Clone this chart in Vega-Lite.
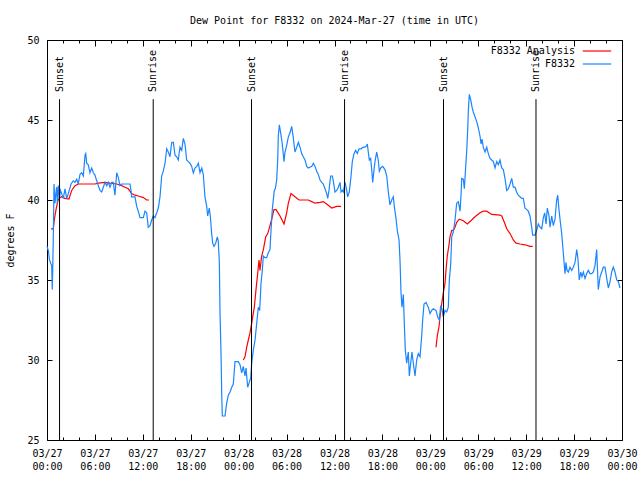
{
  "$schema": "https://vega.github.io/schema/vega-lite/v6.json",
  "width": 575,
  "height": 400,
  "autosize": {"type": "none"},
  "padding": {"left": 47, "top": 40, "right": 18, "bottom": 40},
  "background": "white",
  "title": {"text": "Dew Point for F8332 on 2024-Mar-27 (time in UTC)", "font": "DejaVu Sans Mono", "fontSize": 10, "fontWeight": "normal", "anchor": "middle", "offset": 9, "color": "black"},
  "config": {
    "view": {"stroke": "black", "strokeWidth": 1},
    "axis": {"grid": false, "domain": false, "tickColor": "black", "labelColor": "black", "labelFont": "DejaVu Sans Mono", "labelFontSize": 10, "titleFont": "DejaVu Sans Mono", "titleFontSize": 10, "titleFontWeight": "normal", "titleColor": "black"}
  },
  "datasets": {
    "obs": [
      {"s":"F8332 Analysis","g":"r1","h":0.50,"v":38.2},{"s":"F8332 Analysis","g":"r1","h":0.79,"v":38.2},{"s":"F8332 Analysis","g":"r1","h":0.91,"v":38.75},{"s":"F8332 Analysis","g":"r1","h":1.13,"v":39.4},{"s":"F8332 Analysis","g":"r1","h":1.34,"v":39.9},{"s":"F8332 Analysis","g":"r1","h":1.50,"v":40.1},{"s":"F8332 Analysis","g":"r1","h":1.84,"v":40.2},{"s":"F8332 Analysis","g":"r1","h":2.25,"v":40.1},{"s":"F8332 Analysis","g":"r1","h":2.75,"v":40.06},{"s":"F8332 Analysis","g":"r1","h":3.09,"v":40.6},{"s":"F8332 Analysis","g":"r1","h":3.51,"v":40.9},{"s":"F8332 Analysis","g":"r1","h":3.92,"v":41.0},{"s":"F8332 Analysis","g":"r1","h":4.76,"v":41.0},{"s":"F8332 Analysis","g":"r1","h":6.01,"v":41.0},{"s":"F8332 Analysis","g":"r1","h":6.42,"v":41.05},{"s":"F8332 Analysis","g":"r1","h":7.26,"v":41.1},{"s":"F8332 Analysis","g":"r1","h":7.89,"v":41.05},{"s":"F8332 Analysis","g":"r1","h":8.73,"v":41.0},{"s":"F8332 Analysis","g":"r1","h":9.35,"v":40.9},{"s":"F8332 Analysis","g":"r1","h":9.77,"v":40.8},{"s":"F8332 Analysis","g":"r1","h":10.18,"v":40.7},{"s":"F8332 Analysis","g":"r1","h":10.60,"v":40.4},{"s":"F8332 Analysis","g":"r1","h":11.02,"v":40.3},{"s":"F8332 Analysis","g":"r1","h":11.43,"v":40.25},{"s":"F8332 Analysis","g":"r1","h":12.06,"v":40.15},{"s":"F8332 Analysis","g":"r1","h":12.48,"v":40.0},{"s":"F8332 Analysis","g":"r1","h":12.77,"v":40.0},
      {"s":"F8332 Analysis","g":"r2","h":24.58,"v":30.0},{"s":"F8332 Analysis","g":"r2","h":24.79,"v":30.2},{"s":"F8332 Analysis","g":"r2","h":25.01,"v":30.8},{"s":"F8332 Analysis","g":"r2","h":25.21,"v":31.25},{"s":"F8332 Analysis","g":"r2","h":25.42,"v":31.7},{"s":"F8332 Analysis","g":"r2","h":25.63,"v":32.3},{"s":"F8332 Analysis","g":"r2","h":25.96,"v":33.3},{"s":"F8332 Analysis","g":"r2","h":26.17,"v":34.4},{"s":"F8332 Analysis","g":"r2","h":26.38,"v":35.4},{"s":"F8332 Analysis","g":"r2","h":26.55,"v":36.25},{"s":"F8332 Analysis","g":"r2","h":26.67,"v":35.6},{"s":"F8332 Analysis","g":"r2","h":26.88,"v":36.5},{"s":"F8332 Analysis","g":"r2","h":27.09,"v":36.9},{"s":"F8332 Analysis","g":"r2","h":27.39,"v":37.7},{"s":"F8332 Analysis","g":"r2","h":27.64,"v":37.9},{"s":"F8332 Analysis","g":"r2","h":27.92,"v":38.4},{"s":"F8332 Analysis","g":"r2","h":28.21,"v":38.95},{"s":"F8332 Analysis","g":"r2","h":28.42,"v":39.4},{"s":"F8332 Analysis","g":"r2","h":28.68,"v":39.4},{"s":"F8332 Analysis","g":"r2","h":29.18,"v":39.0},{"s":"F8332 Analysis","g":"r2","h":29.68,"v":38.5},{"s":"F8332 Analysis","g":"r2","h":30.01,"v":39.2},{"s":"F8332 Analysis","g":"r2","h":30.22,"v":39.8},{"s":"F8332 Analysis","g":"r2","h":30.55,"v":40.4},{"s":"F8332 Analysis","g":"r2","h":31.05,"v":40.2},{"s":"F8332 Analysis","g":"r2","h":31.56,"v":40.0},{"s":"F8332 Analysis","g":"r2","h":32.09,"v":40.0},{"s":"F8332 Analysis","g":"r2","h":32.72,"v":40.0},{"s":"F8332 Analysis","g":"r2","h":33.15,"v":39.9},{"s":"F8332 Analysis","g":"r2","h":33.56,"v":39.8},{"s":"F8332 Analysis","g":"r2","h":34.19,"v":39.85},{"s":"F8332 Analysis","g":"r2","h":34.60,"v":39.9},{"s":"F8332 Analysis","g":"r2","h":35.02,"v":39.75},{"s":"F8332 Analysis","g":"r2","h":35.65,"v":39.5},{"s":"F8332 Analysis","g":"r2","h":36.28,"v":39.6},{"s":"F8332 Analysis","g":"r2","h":36.82,"v":39.6},
      {"s":"F8332 Analysis","g":"r3","h":48.71,"v":30.8},{"s":"F8332 Analysis","g":"r3","h":48.87,"v":31.5},{"s":"F8332 Analysis","g":"r3","h":49.09,"v":32.1},{"s":"F8332 Analysis","g":"r3","h":49.21,"v":32.7},{"s":"F8332 Analysis","g":"r3","h":49.42,"v":33.5},{"s":"F8332 Analysis","g":"r3","h":49.62,"v":34.2},{"s":"F8332 Analysis","g":"r3","h":49.84,"v":34.8},{"s":"F8332 Analysis","g":"r3","h":49.96,"v":35.6},{"s":"F8332 Analysis","g":"r3","h":50.12,"v":36.5},{"s":"F8332 Analysis","g":"r3","h":50.34,"v":37.2},{"s":"F8332 Analysis","g":"r3","h":50.46,"v":37.7},{"s":"F8332 Analysis","g":"r3","h":50.68,"v":38.1},{"s":"F8332 Analysis","g":"r3","h":50.88,"v":38.1},{"s":"F8332 Analysis","g":"r3","h":51.09,"v":38.3},{"s":"F8332 Analysis","g":"r3","h":51.30,"v":38.6},{"s":"F8332 Analysis","g":"r3","h":51.63,"v":38.8},{"s":"F8332 Analysis","g":"r3","h":52.13,"v":38.7},{"s":"F8332 Analysis","g":"r3","h":52.63,"v":38.5},{"s":"F8332 Analysis","g":"r3","h":53.18,"v":38.75},{"s":"F8332 Analysis","g":"r3","h":53.59,"v":38.95},{"s":"F8332 Analysis","g":"r3","h":54.22,"v":39.2},{"s":"F8332 Analysis","g":"r3","h":54.63,"v":39.3},{"s":"F8332 Analysis","g":"r3","h":55.06,"v":39.3},{"s":"F8332 Analysis","g":"r3","h":55.68,"v":39.1},{"s":"F8332 Analysis","g":"r3","h":56.72,"v":39.06},{"s":"F8332 Analysis","g":"r3","h":56.94,"v":39.0},{"s":"F8332 Analysis","g":"r3","h":57.35,"v":38.5},{"s":"F8332 Analysis","g":"r3","h":57.56,"v":38.2},{"s":"F8332 Analysis","g":"r3","h":57.98,"v":37.9},{"s":"F8332 Analysis","g":"r3","h":58.39,"v":37.5},{"s":"F8332 Analysis","g":"r3","h":58.73,"v":37.3},{"s":"F8332 Analysis","g":"r3","h":59.23,"v":37.25},{"s":"F8332 Analysis","g":"r3","h":59.85,"v":37.2},{"s":"F8332 Analysis","g":"r3","h":60.48,"v":37.1},{"s":"F8332 Analysis","g":"r3","h":60.82,"v":37.1},
      {"s":"F8332","g":"b","h":0.00,"v":37.1},{"s":"F8332","g":"b","h":0.19,"v":36.8},{"s":"F8332","g":"b","h":0.29,"v":36.3},{"s":"F8332","g":"b","h":0.50,"v":36.0},{"s":"F8332","g":"b","h":0.59,"v":35.9},{"s":"F8332","g":"b","h":0.66,"v":34.4},{"s":"F8332","g":"b","h":0.71,"v":35.5},{"s":"F8332","g":"b","h":0.79,"v":37.7},{"s":"F8332","g":"b","h":0.88,"v":41.0},{"s":"F8332","g":"b","h":1.00,"v":39.8},{"s":"F8332","g":"b","h":1.13,"v":40.5},{"s":"F8332","g":"b","h":1.21,"v":40.8},{"s":"F8332","g":"b","h":1.29,"v":39.8},{"s":"F8332","g":"b","h":1.41,"v":40.9},{"s":"F8332","g":"b","h":1.54,"v":40.1},{"s":"F8332","g":"b","h":1.69,"v":40.6},{"s":"F8332","g":"b","h":1.84,"v":40.4},{"s":"F8332","g":"b","h":2.04,"v":40.1},{"s":"F8332","g":"b","h":2.25,"v":40.7},{"s":"F8332","g":"b","h":2.47,"v":40.1},{"s":"F8332","g":"b","h":2.67,"v":40.4},{"s":"F8332","g":"b","h":3.01,"v":41.0},{"s":"F8332","g":"b","h":3.29,"v":41.2},{"s":"F8332","g":"b","h":3.51,"v":41.1},{"s":"F8332","g":"b","h":3.72,"v":41.3},{"s":"F8332","g":"b","h":3.92,"v":41.0},{"s":"F8332","g":"b","h":4.13,"v":41.6},{"s":"F8332","g":"b","h":4.35,"v":41.7},{"s":"F8332","g":"b","h":4.55,"v":41.5},{"s":"F8332","g":"b","h":4.76,"v":42.8},{"s":"F8332","g":"b","h":4.85,"v":42.9},{"s":"F8332","g":"b","h":4.97,"v":42.3},{"s":"F8332","g":"b","h":5.17,"v":42.2},{"s":"F8332","g":"b","h":5.38,"v":41.7},{"s":"F8332","g":"b","h":5.60,"v":42.0},{"s":"F8332","g":"b","h":5.80,"v":41.7},{"s":"F8332","g":"b","h":6.01,"v":41.56},{"s":"F8332","g":"b","h":6.22,"v":41.2},{"s":"F8332","g":"b","h":6.42,"v":40.9},{"s":"F8332","g":"b","h":6.64,"v":40.6},{"s":"F8332","g":"b","h":6.85,"v":40.5},{"s":"F8332","g":"b","h":7.05,"v":40.8},{"s":"F8332","g":"b","h":7.26,"v":41.1},{"s":"F8332","g":"b","h":7.48,"v":40.9},{"s":"F8332","g":"b","h":7.68,"v":41.1},{"s":"F8332","g":"b","h":7.89,"v":40.8},{"s":"F8332","g":"b","h":8.10,"v":41.1},{"s":"F8332","g":"b","h":8.30,"v":41.1},{"s":"F8332","g":"b","h":8.51,"v":40.3},{"s":"F8332","g":"b","h":8.73,"v":41.7},{"s":"F8332","g":"b","h":8.93,"v":41.4},{"s":"F8332","g":"b","h":9.14,"v":40.9},{"s":"F8332","g":"b","h":9.35,"v":41.0},{"s":"F8332","g":"b","h":9.77,"v":41.0},{"s":"F8332","g":"b","h":10.39,"v":41.0},{"s":"F8332","g":"b","h":10.52,"v":40.6},{"s":"F8332","g":"b","h":10.60,"v":40.2},{"s":"F8332","g":"b","h":11.02,"v":40.2},{"s":"F8332","g":"b","h":11.23,"v":39.6},{"s":"F8332","g":"b","h":11.43,"v":39.3},{"s":"F8332","g":"b","h":11.65,"v":38.9},{"s":"F8332","g":"b","h":12.06,"v":38.9},{"s":"F8332","g":"b","h":12.27,"v":39.3},{"s":"F8332","g":"b","h":12.48,"v":39.2},{"s":"F8332","g":"b","h":12.68,"v":38.3},{"s":"F8332","g":"b","h":12.90,"v":38.4},{"s":"F8332","g":"b","h":13.11,"v":38.75},{"s":"F8332","g":"b","h":13.31,"v":39.0},{"s":"F8332","g":"b","h":13.52,"v":38.9},{"s":"F8332","g":"b","h":13.74,"v":39.2},{"s":"F8332","g":"b","h":13.94,"v":39.5},{"s":"F8332","g":"b","h":14.15,"v":40.2},{"s":"F8332","g":"b","h":14.36,"v":41.5},{"s":"F8332","g":"b","h":14.56,"v":41.8},{"s":"F8332","g":"b","h":14.78,"v":42.3},{"s":"F8332","g":"b","h":14.99,"v":43.2},{"s":"F8332","g":"b","h":15.19,"v":43.0},{"s":"F8332","g":"b","h":15.40,"v":42.7},{"s":"F8332","g":"b","h":15.62,"v":43.6},{"s":"F8332","g":"b","h":15.82,"v":43.6},{"s":"F8332","g":"b","h":16.03,"v":42.8},{"s":"F8332","g":"b","h":16.24,"v":42.7},{"s":"F8332","g":"b","h":16.44,"v":42.5},{"s":"F8332","g":"b","h":16.65,"v":43.3},{"s":"F8332","g":"b","h":16.87,"v":43.1},{"s":"F8332","g":"b","h":17.07,"v":43.85},{"s":"F8332","g":"b","h":17.28,"v":43.5},{"s":"F8332","g":"b","h":17.49,"v":42.5},{"s":"F8332","g":"b","h":17.69,"v":42.4},{"s":"F8332","g":"b","h":17.91,"v":42.3},{"s":"F8332","g":"b","h":18.12,"v":42.1},{"s":"F8332","g":"b","h":18.32,"v":41.7},{"s":"F8332","g":"b","h":18.53,"v":42.0},{"s":"F8332","g":"b","h":18.75,"v":42.1},{"s":"F8332","g":"b","h":18.95,"v":42.3},{"s":"F8332","g":"b","h":19.16,"v":41.7},{"s":"F8332","g":"b","h":19.38,"v":42.0},{"s":"F8332","g":"b","h":19.57,"v":41.6},{"s":"F8332","g":"b","h":19.78,"v":40.2},{"s":"F8332","g":"b","h":20.00,"v":39.6},{"s":"F8332","g":"b","h":20.12,"v":39.0},{"s":"F8332","g":"b","h":20.32,"v":39.5},{"s":"F8332","g":"b","h":20.45,"v":39.0},{"s":"F8332","g":"b","h":20.62,"v":37.9},{"s":"F8332","g":"b","h":20.75,"v":37.3},{"s":"F8332","g":"b","h":20.91,"v":37.1},{"s":"F8332","g":"b","h":21.12,"v":37.3},{"s":"F8332","g":"b","h":21.33,"v":37.7},{"s":"F8332","g":"b","h":21.45,"v":37.4},{"s":"F8332","g":"b","h":21.58,"v":36.1},{"s":"F8332","g":"b","h":21.66,"v":33.1},{"s":"F8332","g":"b","h":21.79,"v":30.4},{"s":"F8332","g":"b","h":21.88,"v":27.8},{"s":"F8332","g":"b","h":21.95,"v":26.5},{"s":"F8332","g":"b","h":22.29,"v":26.5},{"s":"F8332","g":"b","h":22.50,"v":27.3},{"s":"F8332","g":"b","h":22.70,"v":27.8},{"s":"F8332","g":"b","h":22.92,"v":28.0},{"s":"F8332","g":"b","h":23.13,"v":28.3},{"s":"F8332","g":"b","h":23.33,"v":28.5},{"s":"F8332","g":"b","h":23.54,"v":29.9},{"s":"F8332","g":"b","h":23.95,"v":29.9},{"s":"F8332","g":"b","h":24.17,"v":29.7},{"s":"F8332","g":"b","h":24.38,"v":29.2},{"s":"F8332","g":"b","h":24.58,"v":29.6},{"s":"F8332","g":"b","h":24.79,"v":29.0},{"s":"F8332","g":"b","h":24.92,"v":29.5},{"s":"F8332","g":"b","h":25.13,"v":28.3},{"s":"F8332","g":"b","h":25.33,"v":28.6},{"s":"F8332","g":"b","h":25.51,"v":28.9},{"s":"F8332","g":"b","h":25.63,"v":29.8},{"s":"F8332","g":"b","h":25.83,"v":30.6},{"s":"F8332","g":"b","h":26.05,"v":31.25},{"s":"F8332","g":"b","h":26.26,"v":32.3},{"s":"F8332","g":"b","h":26.46,"v":33.3},{"s":"F8332","g":"b","h":26.63,"v":33.1},{"s":"F8332","g":"b","h":26.80,"v":34.8},{"s":"F8332","g":"b","h":26.96,"v":35.6},{"s":"F8332","g":"b","h":27.09,"v":36.5},{"s":"F8332","g":"b","h":27.30,"v":36.4},{"s":"F8332","g":"b","h":27.51,"v":36.4},{"s":"F8332","g":"b","h":27.71,"v":36.7},{"s":"F8332","g":"b","h":27.92,"v":36.9},{"s":"F8332","g":"b","h":28.05,"v":38.1},{"s":"F8332","g":"b","h":28.21,"v":39.4},{"s":"F8332","g":"b","h":28.46,"v":40.6},{"s":"F8332","g":"b","h":28.59,"v":40.7},{"s":"F8332","g":"b","h":28.76,"v":41.25},{"s":"F8332","g":"b","h":28.89,"v":42.5},{"s":"F8332","g":"b","h":28.96,"v":43.95},{"s":"F8332","g":"b","h":29.09,"v":44.7},{"s":"F8332","g":"b","h":29.26,"v":44.2},{"s":"F8332","g":"b","h":29.46,"v":43.5},{"s":"F8332","g":"b","h":29.68,"v":42.4},{"s":"F8332","g":"b","h":29.80,"v":43.0},{"s":"F8332","g":"b","h":30.01,"v":43.4},{"s":"F8332","g":"b","h":30.22,"v":43.95},{"s":"F8332","g":"b","h":30.43,"v":44.2},{"s":"F8332","g":"b","h":30.64,"v":44.6},{"s":"F8332","g":"b","h":30.84,"v":43.9},{"s":"F8332","g":"b","h":31.05,"v":43.0},{"s":"F8332","g":"b","h":31.27,"v":43.3},{"s":"F8332","g":"b","h":31.47,"v":43.6},{"s":"F8332","g":"b","h":31.68,"v":43.3},{"s":"F8332","g":"b","h":31.89,"v":42.9},{"s":"F8332","g":"b","h":32.09,"v":42.7},{"s":"F8332","g":"b","h":32.31,"v":42.5},{"s":"F8332","g":"b","h":32.52,"v":42.1},{"s":"F8332","g":"b","h":32.72,"v":42.0},{"s":"F8332","g":"b","h":33.15,"v":42.1},{"s":"F8332","g":"b","h":33.35,"v":42.3},{"s":"F8332","g":"b","h":33.56,"v":42.1},{"s":"F8332","g":"b","h":33.77,"v":41.8},{"s":"F8332","g":"b","h":33.97,"v":41.6},{"s":"F8332","g":"b","h":34.19,"v":41.25},{"s":"F8332","g":"b","h":34.40,"v":41.1},{"s":"F8332","g":"b","h":34.60,"v":41.0},{"s":"F8332","g":"b","h":34.81,"v":40.7},{"s":"F8332","g":"b","h":35.02,"v":40.4},{"s":"F8332","g":"b","h":35.15,"v":40.1},{"s":"F8332","g":"b","h":35.31,"v":40.6},{"s":"F8332","g":"b","h":35.52,"v":41.5},{"s":"F8332","g":"b","h":35.73,"v":41.5},{"s":"F8332","g":"b","h":35.85,"v":41.2},{"s":"F8332","g":"b","h":36.06,"v":40.5},{"s":"F8332","g":"b","h":36.28,"v":40.6},{"s":"F8332","g":"b","h":36.48,"v":40.8},{"s":"F8332","g":"b","h":36.69,"v":41.1},{"s":"F8332","g":"b","h":36.82,"v":40.5},{"s":"F8332","g":"b","h":36.98,"v":40.6},{"s":"F8332","g":"b","h":37.10,"v":40.5},{"s":"F8332","g":"b","h":37.32,"v":41.1},{"s":"F8332","g":"b","h":37.53,"v":40.6},{"s":"F8332","g":"b","h":37.65,"v":40.2},{"s":"F8332","g":"b","h":37.85,"v":40.5},{"s":"F8332","g":"b","h":38.07,"v":41.5},{"s":"F8332","g":"b","h":38.23,"v":42.4},{"s":"F8332","g":"b","h":38.44,"v":42.9},{"s":"F8332","g":"b","h":38.65,"v":43.1},{"s":"F8332","g":"b","h":38.86,"v":42.9},{"s":"F8332","g":"b","h":39.07,"v":43.2},{"s":"F8332","g":"b","h":39.32,"v":43.2},{"s":"F8332","g":"b","h":39.61,"v":43.3},{"s":"F8332","g":"b","h":39.82,"v":43.3},{"s":"F8332","g":"b","h":40.03,"v":43.4},{"s":"F8332","g":"b","h":40.11,"v":43.5},{"s":"F8332","g":"b","h":40.23,"v":43.0},{"s":"F8332","g":"b","h":40.36,"v":42.5},{"s":"F8332","g":"b","h":40.53,"v":42.6},{"s":"F8332","g":"b","h":40.66,"v":41.9},{"s":"F8332","g":"b","h":40.78,"v":41.1},{"s":"F8332","g":"b","h":40.95,"v":41.9},{"s":"F8332","g":"b","h":41.07,"v":42.4},{"s":"F8332","g":"b","h":41.28,"v":43.0},{"s":"F8332","g":"b","h":41.48,"v":42.5},{"s":"F8332","g":"b","h":41.61,"v":41.8},{"s":"F8332","g":"b","h":41.79,"v":42.0},{"s":"F8332","g":"b","h":42.04,"v":42.1},{"s":"F8332","g":"b","h":42.32,"v":41.9},{"s":"F8332","g":"b","h":42.54,"v":41.5},{"s":"F8332","g":"b","h":42.74,"v":40.5},{"s":"F8332","g":"b","h":42.95,"v":39.7},{"s":"F8332","g":"b","h":43.16,"v":40.0},{"s":"F8332","g":"b","h":43.36,"v":40.2},{"s":"F8332","g":"b","h":43.49,"v":39.6},{"s":"F8332","g":"b","h":43.70,"v":38.85},{"s":"F8332","g":"b","h":43.86,"v":38.1},{"s":"F8332","g":"b","h":44.08,"v":37.5},{"s":"F8332","g":"b","h":44.20,"v":36.25},{"s":"F8332","g":"b","h":44.33,"v":34.2},{"s":"F8332","g":"b","h":44.45,"v":33.3},{"s":"F8332","g":"b","h":44.62,"v":34.1},{"s":"F8332","g":"b","h":44.74,"v":32.3},{"s":"F8332","g":"b","h":44.87,"v":30.6},{"s":"F8332","g":"b","h":45.04,"v":29.8},{"s":"F8332","g":"b","h":45.24,"v":30.5},{"s":"F8332","g":"b","h":45.37,"v":29.0},{"s":"F8332","g":"b","h":45.54,"v":29.8},{"s":"F8332","g":"b","h":45.70,"v":30.5},{"s":"F8332","g":"b","h":45.87,"v":29.8},{"s":"F8332","g":"b","h":46.08,"v":29.0},{"s":"F8332","g":"b","h":46.29,"v":30.0},{"s":"F8332","g":"b","h":46.49,"v":30.4},{"s":"F8332","g":"b","h":46.71,"v":30.2},{"s":"F8332","g":"b","h":46.92,"v":31.5},{"s":"F8332","g":"b","h":47.04,"v":32.5},{"s":"F8332","g":"b","h":47.21,"v":33.5},{"s":"F8332","g":"b","h":47.46,"v":33.6},{"s":"F8332","g":"b","h":47.74,"v":33.3},{"s":"F8332","g":"b","h":47.96,"v":32.9},{"s":"F8332","g":"b","h":48.17,"v":33.1},{"s":"F8332","g":"b","h":48.37,"v":33.2},{"s":"F8332","g":"b","h":48.71,"v":33.1},{"s":"F8332","g":"b","h":48.92,"v":32.7},{"s":"F8332","g":"b","h":49.12,"v":32.5},{"s":"F8332","g":"b","h":49.30,"v":33.4},{"s":"F8332","g":"b","h":49.46,"v":33.2},{"s":"F8332","g":"b","h":49.62,"v":32.7},{"s":"F8332","g":"b","h":49.84,"v":33.1},{"s":"F8332","g":"b","h":50.05,"v":33.0},{"s":"F8332","g":"b","h":50.25,"v":33.3},{"s":"F8332","g":"b","h":50.38,"v":35.0},{"s":"F8332","g":"b","h":50.55,"v":36.0},{"s":"F8332","g":"b","h":50.68,"v":37.7},{"s":"F8332","g":"b","h":50.88,"v":38.0},{"s":"F8332","g":"b","h":51.09,"v":38.75},{"s":"F8332","g":"b","h":51.30,"v":39.8},{"s":"F8332","g":"b","h":51.51,"v":39.9},{"s":"F8332","g":"b","h":51.72,"v":39.3},{"s":"F8332","g":"b","h":51.84,"v":40.3},{"s":"F8332","g":"b","h":51.93,"v":41.35},{"s":"F8332","g":"b","h":52.13,"v":41.3},{"s":"F8332","g":"b","h":52.26,"v":40.7},{"s":"F8332","g":"b","h":52.43,"v":42.1},{"s":"F8332","g":"b","h":52.56,"v":43.1},{"s":"F8332","g":"b","h":52.68,"v":44.4},{"s":"F8332","g":"b","h":52.76,"v":45.6},{"s":"F8332","g":"b","h":52.88,"v":46.6},{"s":"F8332","g":"b","h":53.06,"v":46.25},{"s":"F8332","g":"b","h":53.22,"v":45.8},{"s":"F8332","g":"b","h":53.38,"v":45.5},{"s":"F8332","g":"b","h":53.59,"v":45.2},{"s":"F8332","g":"b","h":53.81,"v":44.9},{"s":"F8332","g":"b","h":54.01,"v":44.5},{"s":"F8332","g":"b","h":54.22,"v":44.0},{"s":"F8332","g":"b","h":54.35,"v":43.5},{"s":"F8332","g":"b","h":54.47,"v":43.8},{"s":"F8332","g":"b","h":54.63,"v":43.3},{"s":"F8332","g":"b","h":54.85,"v":43.0},{"s":"F8332","g":"b","h":55.06,"v":43.3},{"s":"F8332","g":"b","h":55.26,"v":42.9},{"s":"F8332","g":"b","h":55.47,"v":42.6},{"s":"F8332","g":"b","h":55.68,"v":42.5},{"s":"F8332","g":"b","h":55.89,"v":42.4},{"s":"F8332","g":"b","h":56.10,"v":42.0},{"s":"F8332","g":"b","h":56.31,"v":42.4},{"s":"F8332","g":"b","h":56.51,"v":42.2},{"s":"F8332","g":"b","h":56.72,"v":42.5},{"s":"F8332","g":"b","h":56.94,"v":42.0},{"s":"F8332","g":"b","h":57.14,"v":41.9},{"s":"F8332","g":"b","h":57.35,"v":41.35},{"s":"F8332","g":"b","h":57.56,"v":40.6},{"s":"F8332","g":"b","h":57.76,"v":40.7},{"s":"F8332","g":"b","h":57.98,"v":41.0},{"s":"F8332","g":"b","h":58.19,"v":41.35},{"s":"F8332","g":"b","h":58.39,"v":40.8},{"s":"F8332","g":"b","h":58.60,"v":40.8},{"s":"F8332","g":"b","h":58.81,"v":40.5},{"s":"F8332","g":"b","h":59.01,"v":40.3},{"s":"F8332","g":"b","h":59.23,"v":40.2},{"s":"F8332","g":"b","h":59.44,"v":40.1},{"s":"F8332","g":"b","h":59.64,"v":40.1},{"s":"F8332","g":"b","h":59.85,"v":39.5},{"s":"F8332","g":"b","h":60.07,"v":39.4},{"s":"F8332","g":"b","h":60.27,"v":39.3},{"s":"F8332","g":"b","h":60.48,"v":39.0},{"s":"F8332","g":"b","h":60.69,"v":38.3},{"s":"F8332","g":"b","h":60.82,"v":37.8},{"s":"F8332","g":"b","h":61.11,"v":37.8},{"s":"F8332","g":"b","h":61.32,"v":38.1},{"s":"F8332","g":"b","h":61.52,"v":38.5},{"s":"F8332","g":"b","h":61.73,"v":38.3},{"s":"F8332","g":"b","h":61.95,"v":38.2},{"s":"F8332","g":"b","h":62.15,"v":38.9},{"s":"F8332","g":"b","h":62.32,"v":39.2},{"s":"F8332","g":"b","h":62.49,"v":38.5},{"s":"F8332","g":"b","h":62.65,"v":39.5},{"s":"F8332","g":"b","h":62.86,"v":39.0},{"s":"F8332","g":"b","h":62.99,"v":38.3},{"s":"F8332","g":"b","h":63.20,"v":39.0},{"s":"F8332","g":"b","h":63.40,"v":38.4},{"s":"F8332","g":"b","h":63.61,"v":38.8},{"s":"F8332","g":"b","h":63.82,"v":40.0},{"s":"F8332","g":"b","h":63.95,"v":40.3},{"s":"F8332","g":"b","h":64.11,"v":39.4},{"s":"F8332","g":"b","h":64.24,"v":38.8},{"s":"F8332","g":"b","h":64.45,"v":37.9},{"s":"F8332","g":"b","h":64.65,"v":36.7},{"s":"F8332","g":"b","h":64.86,"v":35.4},{"s":"F8332","g":"b","h":64.99,"v":36.1},{"s":"F8332","g":"b","h":65.11,"v":35.6},{"s":"F8332","g":"b","h":65.28,"v":35.5},{"s":"F8332","g":"b","h":65.49,"v":35.8},{"s":"F8332","g":"b","h":65.70,"v":35.6},{"s":"F8332","g":"b","h":65.90,"v":35.8},{"s":"F8332","g":"b","h":66.12,"v":36.1},{"s":"F8332","g":"b","h":66.33,"v":36.9},{"s":"F8332","g":"b","h":66.49,"v":36.3},{"s":"F8332","g":"b","h":66.65,"v":35.0},{"s":"F8332","g":"b","h":66.83,"v":35.5},{"s":"F8332","g":"b","h":66.99,"v":35.2},{"s":"F8332","g":"b","h":67.16,"v":35.5},{"s":"F8332","g":"b","h":67.37,"v":35.1},{"s":"F8332","g":"b","h":67.58,"v":35.4},{"s":"F8332","g":"b","h":67.78,"v":35.6},{"s":"F8332","g":"b","h":67.99,"v":35.4},{"s":"F8332","g":"b","h":68.21,"v":35.4},{"s":"F8332","g":"b","h":68.41,"v":35.5},{"s":"F8332","g":"b","h":68.62,"v":35.9},{"s":"F8332","g":"b","h":68.83,"v":36.9},{"s":"F8332","g":"b","h":69.03,"v":34.4},{"s":"F8332","g":"b","h":69.25,"v":35.2},{"s":"F8332","g":"b","h":69.46,"v":35.5},{"s":"F8332","g":"b","h":69.66,"v":35.8},{"s":"F8332","g":"b","h":69.87,"v":35.8},{"s":"F8332","g":"b","h":70.09,"v":35.1},{"s":"F8332","g":"b","h":70.29,"v":34.5},{"s":"F8332","g":"b","h":70.50,"v":34.9},{"s":"F8332","g":"b","h":70.71,"v":35.5},{"s":"F8332","g":"b","h":70.91,"v":35.8},{"s":"F8332","g":"b","h":71.12,"v":35.5},{"s":"F8332","g":"b","h":71.34,"v":35.0},{"s":"F8332","g":"b","h":71.54,"v":34.9},{"s":"F8332","g":"b","h":71.75,"v":34.5}
    ],
    "ev": [
      {"t":"Sunset","h":1.57},{"t":"Sunrise","h":13.30},{"t":"Sunset","h":25.61},{"t":"Sunrise","h":37.26},{"t":"Sunset","h":49.65},{"t":"Sunrise","h":61.23}
    ]
  },
  "layer": [
    {
      "data": {"name": "obs"},
      "mark": {"type": "line", "strokeWidth": 1.2},
      "encoding": {
        "x": {"field": "h", "type": "quantitative", "scale": {"domain": [0, 72], "nice": false, "zero": false},
          "axis": {"orient": "bottom", "values": [0,6,12,18,24,30,36,42,48,54,60,66,72], "tickSize": -6, "labelPadding": 14, "labelBaseline": "top", "labelLineHeight": 13, "labelFlush": false, "labelOverlap": false, "title": null,
            "labelExpr": "['03/' + (27 + floor(datum.value / 24)), (datum.value % 24 < 10 ? '0' : '') + (datum.value % 24) + ':00']"}},
        "y": {"field": "v", "type": "quantitative", "scale": {"domain": [25, 50], "nice": false, "zero": false},
          "axis": {"orient": "left", "values": [25,30,35,40,45,50], "tickSize": -5, "labelPadding": 13, "labelFlush": false, "title": "degrees F", "titleX": -36.5, "titleY": 200, "titleAngle": 270, "titleAlign": "center", "titleBaseline": "middle"}},
        "color": {"field": "s", "type": "nominal", "scale": {"domain": ["F8332 Analysis", "F8332"], "range": ["#ff0000", "#1a85ff"]},
          "legend": {"orient": "none", "legendX": 545, "legendY": 6, "title": null, "padding": 0, "symbolType": "M-3.55,0H3.55", "symbolSize": 64, "symbolStrokeWidth": 1.2, "labelAlign": "right", "labelOffset": -27, "labelFont": "DejaVu Sans Mono", "labelFontSize": 10, "labelColor": "black", "rowPadding": 3}},
        "detail": {"field": "g"}
      }
    },
    {
      "data": {"name": "ev"},
      "mark": {"type": "rule", "color": "black", "strokeWidth": 1},
      "encoding": {
        "x": {"field": "h", "type": "quantitative", "axis": {"orient": "bottom", "values": [2,4,8,10,14,16,20,22,26,28,32,34,38,40,44,46,50,52,56,58,62,64,68,70], "tickSize": -3, "labels": false, "title": null}},
        "y": {"datum": 46.3, "type": "quantitative", "axis": {"orient": "right", "values": [25,30,35,40,45,50], "tickSize": -5, "labels": false, "title": null}},
        "y2": {"datum": 25}
      }
    },
    {
      "data": {"name": "ev"},
      "mark": {"type": "text", "angle": 270, "align": "left", "baseline": "middle", "font": "DejaVu Sans Mono", "fontSize": 10, "color": "black"},
      "encoding": {
        "x": {"field": "h", "type": "quantitative", "axis": {"orient": "top", "values": [0,6,12,18,24,30,36,42,48,54,60,66,72], "tickSize": -6, "labels": false, "title": null}},
        "y": {"datum": 46.75, "type": "quantitative", "axis": null},
        "text": {"field": "t"}
      }
    },
    {
      "data": {"name": "ev"},
      "mark": {"type": "rule", "strokeOpacity": 0},
      "encoding": {
        "x": {"field": "h", "type": "quantitative", "axis": {"orient": "top", "values": [2,4,8,10,14,16,20,22,26,28,32,34,38,40,44,46,50,52,56,58,62,64,68,70], "tickSize": -3, "labels": false, "title": null}},
        "y": {"datum": 46.3, "type": "quantitative", "axis": null},
        "y2": {"datum": 25}
      }
    }
  ],
  "resolve": {"axis": {"x": "independent", "y": "independent"}}
}
